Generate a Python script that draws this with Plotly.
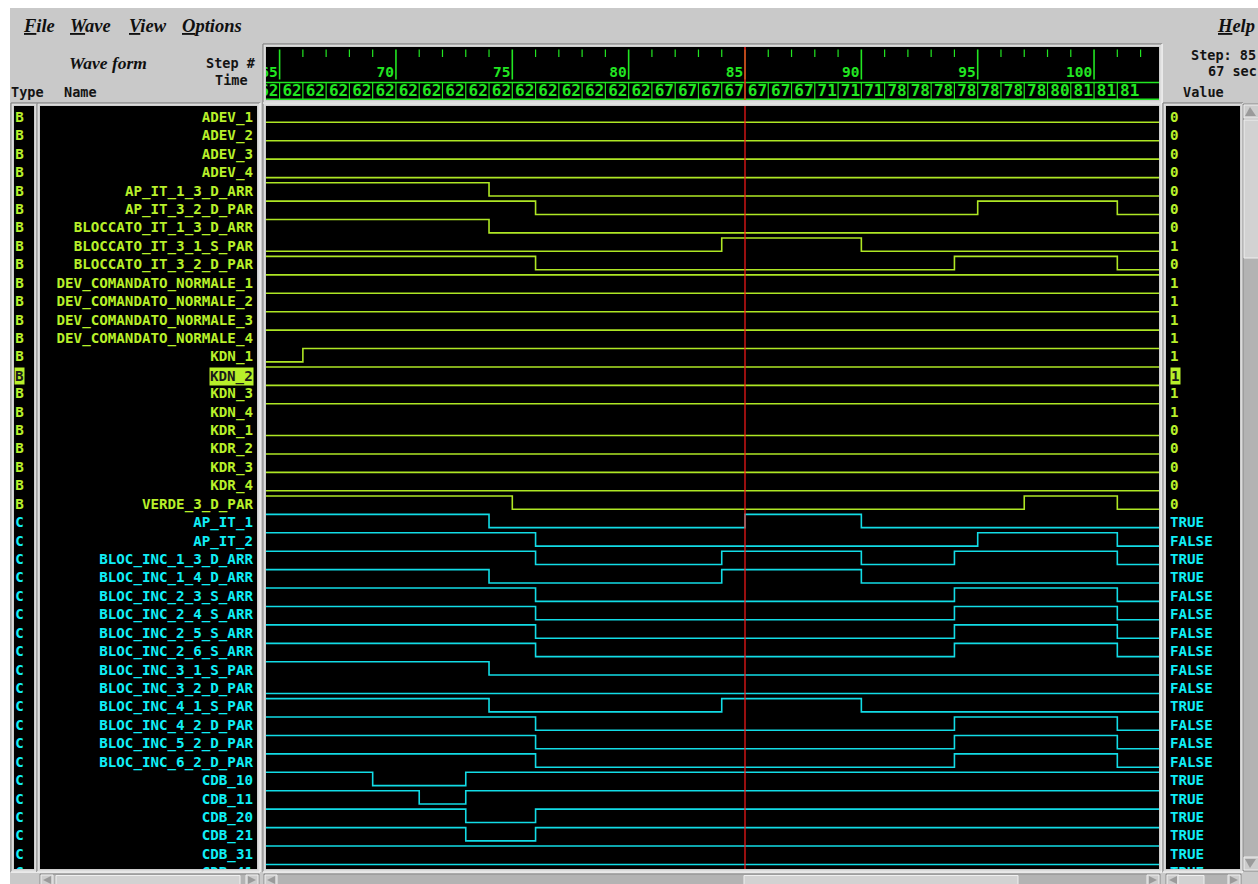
import plotly.graph_objects as go

W, H = 1258, 884

# ---------------- data ----------------
signal_names = [
    "ADEV_1", "ADEV_2", "ADEV_3", "ADEV_4",
    "AP_IT_1_3_D_ARR", "AP_IT_3_2_D_PAR",
    "BLOCCATO_IT_1_3_D_ARR", "BLOCCATO_IT_3_1_S_PAR", "BLOCCATO_IT_3_2_D_PAR",
    "DEV_COMANDATO_NORMALE_1", "DEV_COMANDATO_NORMALE_2",
    "DEV_COMANDATO_NORMALE_3", "DEV_COMANDATO_NORMALE_4",
    "KDN_1", "KDN_2", "KDN_3", "KDN_4",
    "KDR_1", "KDR_2", "KDR_3", "KDR_4",
    "VERDE_3_D_PAR",
    "AP_IT_1", "AP_IT_2",
    "BLOC_INC_1_3_D_ARR", "BLOC_INC_1_4_D_ARR",
    "BLOC_INC_2_3_S_ARR", "BLOC_INC_2_4_S_ARR", "BLOC_INC_2_5_S_ARR", "BLOC_INC_2_6_S_ARR",
    "BLOC_INC_3_1_S_PAR", "BLOC_INC_3_2_D_PAR", "BLOC_INC_4_1_S_PAR",
    "BLOC_INC_4_2_D_PAR", "BLOC_INC_5_2_D_PAR", "BLOC_INC_6_2_D_PAR",
    "CDB_10", "CDB_11", "CDB_20", "CDB_21", "CDB_31", "CDB_41",
]
signal_types = [
    "B", "B", "B", "B", "B", "B", "B", "B", "B", "B", "B", "B", "B",
    "B", "B", "B", "B", "B", "B", "B", "B", "B",
    "C", "C", "C", "C", "C", "C", "C", "C", "C", "C", "C", "C", "C", "C",
    "C", "C", "C", "C", "C", "C",
]
# level at the left edge of the view (1 = high, 0 = low)
signal_start = [
    0, 0, 0, 0, 1, 1, 1, 0, 1, 1, 1, 1, 1,
    0, 1, 1, 1, 0, 0, 0, 0, 1,
    1, 1, 1, 1, 1, 1, 1, 1, 1, 0, 1, 1, 1, 1,
    1, 1, 1, 1, 1, 1,
]
# steps at which the signal toggles
signal_edges = [
    [], [], [], [],
    [74], [76, 95, 101],
    [74], [84, 90], [76, 94, 101],
    [], [], [], [],
    [66], [], [], [],
    [], [], [], [],
    [75, 97, 101],
    [74, 85, 90], [76, 95, 101],
    [76, 84, 90, 94, 101], [74, 84, 90],
    [76, 94, 101], [76, 94, 101], [76, 94, 101], [76, 94, 101],
    [74], [], [74, 84, 90],
    [76, 94, 101], [76, 94, 101], [76, 94, 101],
    [69, 73], [71, 73], [73, 76], [73, 76], [], [],
]
signal_values = [
    "0", "0", "0", "0", "0", "0", "0", "1", "0", "1", "1", "1", "1",
    "1", "1", "1", "1", "0", "0", "0", "0", "0",
    "TRUE", "FALSE", "TRUE", "TRUE", "FALSE", "FALSE", "FALSE", "FALSE",
    "FALSE", "FALSE", "TRUE", "FALSE", "FALSE", "FALSE",
    "TRUE", "TRUE", "TRUE", "TRUE", "TRUE", "TRUE",
]
selected_signal = "KDN_2"

time_steps = [64, 65, 66, 67, 68, 69, 70, 71, 72, 73, 74, 75, 76, 77, 78, 79, 80,
              81, 82, 83, 84, 85, 86, 87, 88, 89, 90, 91, 92, 93, 94, 95, 96, 97,
              98, 99, 100, 101]
time_labels = ["62", "62", "62", "62", "62", "62", "62", "62", "62", "62", "62", "62",
               "62", "62", "62", "62", "62",
               "67", "67", "67", "67", "67", "67", "67",
               "71", "71", "71",
               "78", "78", "78", "78", "78", "78", "78",
               "80", "81", "81", "81"]
major_steps = [65, 70, 75, 80, 85, 90, 95, 100]
minor_steps = [64, 66, 67, 68, 69, 71, 72, 73, 74, 76, 77, 78, 79, 81, 82, 83, 84,
               86, 87, 88, 89, 91, 92, 93, 94, 96, 97, 98, 99, 101, 102]
cursor_step = 85
cursor_time = "67"

# ---------------- style ----------------
GRAY = "#c9c9c9"
COL = {"B": "#aee624", "C": "#12dce6"}
TXT = {"B": "#b8f02a", "C": "#10eef6"}
GREEN = "#22e622"
RED = "#ff1a1a"
MONO = "DejaVu Sans Mono"
SERIF = "Liberation Serif"

ROW_PX = 18.425
ROW0_PX = 117.0
HI = 8.0 / ROW_PX
LO = -5.3 / ROW_PX

WAVE_X0, WAVE_X1 = 266, 1159
PANEL_Y0, PANEL_Y1 = 106, 869
HDR_Y0, HDR_Y1 = 47, 100
STEP_PX = 23.27
x_lo = cursor_step - (745 - WAVE_X0) / STEP_PX
x_hi = cursor_step + (WAVE_X1 - 745) / STEP_PX
y_top = (ROW0_PX - PANEL_Y0) / ROW_PX
y_bot = -(PANEL_Y1 - ROW0_PX) / ROW_PX


def dom_x(a, b):
    return [a / W, b / W]


def dom_y(a, b):
    return [1 - b / H, 1 - a / H]


fig = go.Figure()

# waveforms
for i, name in enumerate(signal_names):
    lvl = signal_start[i]
    xs = [x_lo - 1]
    ys = [-i + (HI if lvl else LO)]
    for e in signal_edges[i]:
        lvl = 1 - lvl
        xs.append(e)
        ys.append(-i + (HI if lvl else LO))
    xs.append(x_hi + 1)
    ys.append(ys[-1])
    fig.add_trace(go.Scatter(
        x=xs, y=ys, mode="lines", line=dict(shape="hv", color=COL[signal_types[i]], width=1.6),
        xaxis="x", yaxis="y", hoverinfo="skip", showlegend=False))

label_font = dict(family=MONO, size=14.2, weight="bold")
row_y = [-i - 0.07 for i in range(len(signal_names))]

# names
fig.add_trace(go.Scatter(
    x=[253] * len(signal_names), y=row_y, text=signal_names, mode="text",
    textposition="middle left",
    textfont=dict(**label_font, color=[TXT[t] for t in signal_types]),
    xaxis="x2", yaxis="y2", hoverinfo="skip", showlegend=False, cliponaxis=True))
# types
fig.add_trace(go.Scatter(
    x=[19.5] * len(signal_names), y=row_y, text=signal_types, mode="text",
    textposition="middle center",
    textfont=dict(**label_font, color=[TXT[t] for t in signal_types]),
    xaxis="x3", yaxis="y3", hoverinfo="skip", showlegend=False, cliponaxis=True))
# values
fig.add_trace(go.Scatter(
    x=[1170] * len(signal_names), y=row_y, text=signal_values, mode="text",
    textposition="middle right",
    textfont=dict(**label_font, color=[TXT[t] for t in signal_types]),
    xaxis="x4", yaxis="y4", hoverinfo="skip", showlegend=False, cliponaxis=True))

# ---------------- time header ----------------
def seg_trace(xs, y0, y1, color, width=1.2):
    X, Y = [], []
    for x in xs:
        X += [x, x, None]
        Y += [y0, y1, None]
    return go.Scatter(x=X, y=Y, mode="lines", line=dict(color=color, width=width),
                      xaxis="x5", yaxis="y5", hoverinfo="skip", showlegend=False)


fig.add_trace(seg_trace(major_steps, 49.5, 79.5, GREEN, 1.6))
fig.add_trace(seg_trace(minor_steps, 49.5, 57, GREEN, 1.2))
fig.add_trace(seg_trace(time_steps, 83, 99, GREEN, 1.2))
fig.add_trace(go.Scatter(
    x=[x_lo - 1, x_hi + 1, None, x_lo - 1, x_hi + 1], y=[82.5, 82.5, None, 99.3, 99.3],
    mode="lines", line=dict(color=GREEN, width=1.6),
    xaxis="x5", yaxis="y5", hoverinfo="skip", showlegend=False))
fig.add_trace(go.Scatter(
    x=[s - 0.08 for s in major_steps], y=[73] * len(major_steps),
    text=[str(s) for s in major_steps], mode="text", textposition="middle left",
    textfont=dict(family=MONO, size=14.5, weight="bold", color=GREEN),
    xaxis="x5", yaxis="y5", hoverinfo="skip", showlegend=False, cliponaxis=True))
fig.add_trace(go.Scatter(
    x=[s + 0.12 for s in time_steps], y=[91.5] * len(time_steps),
    text=time_labels, mode="text", textposition="middle right",
    textfont=dict(family=MONO, size=16, weight="bold", color=GREEN),
    xaxis="x5", yaxis="y5", hoverinfo="skip", showlegend=False, cliponaxis=True))

# ---------------- axes ----------------
noax = dict(visible=False, showgrid=False, zeroline=False, fixedrange=True)
fig.update_layout(
    xaxis=dict(**noax, domain=dom_x(WAVE_X0, WAVE_X1), range=[x_lo, x_hi], anchor="y"),
    yaxis=dict(**noax, domain=dom_y(PANEL_Y0, PANEL_Y1), range=[y_bot, y_top], anchor="x"),
    xaxis2=dict(**noax, domain=dom_x(40, 257), range=[40, 257], anchor="y2"),
    yaxis2=dict(**noax, domain=dom_y(PANEL_Y0, PANEL_Y1), range=[y_bot, y_top], anchor="x2"),
    xaxis3=dict(**noax, domain=dom_x(14, 34), range=[14, 34], anchor="y3"),
    yaxis3=dict(**noax, domain=dom_y(PANEL_Y0, PANEL_Y1), range=[y_bot, y_top], anchor="x3"),
    xaxis4=dict(**noax, domain=dom_x(1166, 1240), range=[1166, 1240], anchor="y4"),
    yaxis4=dict(**noax, domain=dom_y(PANEL_Y0, PANEL_Y1), range=[y_bot, y_top], anchor="x4"),
    xaxis5=dict(**noax, domain=dom_x(WAVE_X0, WAVE_X1), range=[x_lo, x_hi], anchor="y5"),
    yaxis5=dict(**noax, domain=dom_y(HDR_Y0, HDR_Y1), range=[HDR_Y1, HDR_Y0], anchor="x5"),
)

# ---------------- shapes ----------------
shapes = []


def prect(x0, y0, x1, y1, fill=None, line=None, lw=0, layer="above"):
    d = dict(type="rect", xref="paper", yref="paper", x0=x0 / W, x1=x1 / W,
             y0=1 - y1 / H, y1=1 - y0 / H, layer=layer,
             line=dict(width=lw, color=line or "rgba(0,0,0,0)"))
    if fill:
        d["fillcolor"] = fill
    shapes.append(d)


def pline(x0, y0, x1, y1, color, lw=1):
    shapes.append(dict(type="line", xref="paper", yref="paper", x0=x0 / W, x1=x1 / W,
                       y0=1 - y0 / H, y1=1 - y1 / H, line=dict(color=color, width=lw)))


def ppath(pts, fill):
    p = "M " + " L ".join(f"{x / W},{1 - y / H}" for x, y in pts) + " Z"
    shapes.append(dict(type="path", xref="paper", yref="paper", path=p,
                       fillcolor=fill, line=dict(width=0)))


# white window margin
prect(0, 0, W, 8, fill="#ffffff", layer="below")
prect(0, 0, 10, H, fill="#ffffff", layer="below")


def sunken(x0, y0, x1, y1):
    pline(x0 - 3, y0 - 3, x1 + 3, y0 - 3, "#8c8c8c", 1.5)
    pline(x0 - 3, y0 - 3, x0 - 3, y1 + 3, "#8c8c8c", 1.5)
    pline(x0 - 3, y1 + 3, x1 + 3, y1 + 3, "#f4f4f4", 1.5)
    pline(x1 + 3, y0 - 3, x1 + 3, y1 + 3, "#f4f4f4", 1.5)
    prect(x0 - 1.5, y0 - 1.5, x1 + 1.5, y1 + 1.5, line="#dcdcdc", lw=1.5)


sunken(14, PANEL_Y0, 34, PANEL_Y1)
sunken(40, PANEL_Y0, 257, PANEL_Y1)
sunken(WAVE_X0, PANEL_Y0, WAVE_X1, PANEL_Y1)
sunken(1166, PANEL_Y0, 1240, PANEL_Y1)
sunken(WAVE_X0, HDR_Y0, WAVE_X1, HDR_Y1)

# cursor lines
shapes.append(dict(type="line", xref="x", yref="y domain", x0=cursor_step, x1=cursor_step,
                   y0=0, y1=1, line=dict(color=RED, width=1.2)))
shapes.append(dict(type="line", xref="x5", yref="y5 domain", x0=cursor_step, x1=cursor_step,
                   y0=0, y1=1, line=dict(color=RED, width=1.4)))


def hscroll(x0, x1, t0, t1, y0=874, y1=886):
    prect(x0, y0, x1, y1, fill="#b3b3b3", line="#8a8a8a", lw=1)
    prect(x0 + 1, y0 + 1, x0 + 13, y1, fill="#cdcdcd", line="#efefef", lw=1)
    ppath([(x0 + 3, y0 + 6), (x0 + 11, y0 + 2), (x0 + 11, y0 + 10)], "#9a9a9a")
    prect(x1 - 13, y0 + 1, x1 - 1, y1, fill="#cdcdcd", line="#efefef", lw=1)
    ppath([(x1 - 3, y0 + 6), (x1 - 11, y0 + 2), (x1 - 11, y0 + 10)], "#9a9a9a")
    prect(t0, y0 + 1.5, t1, y1, fill="#d2d2d2", line="#f0f0f0", lw=1)


hscroll(40, 259, 56, 240)
hscroll(WAVE_X0 - 2, WAVE_X1 + 1, 744, 1018)
hscroll(1166, 1241, 1178, 1204)

# vertical scrollbar (right)
prect(1243, PANEL_Y0 - 2, 1262, PANEL_Y1 + 2, fill="#b3b3b3", line="#8a8a8a", lw=1)
prect(1244, PANEL_Y0 - 1, 1262, PANEL_Y0 + 12, fill="#cdcdcd", line="#efefef", lw=1)
ppath([(1250, PANEL_Y0 + 1), (1245, PANEL_Y0 + 10), (1256, PANEL_Y0 + 10)], "#9a9a9a")
prect(1244, PANEL_Y0 + 14, 1262, 258, fill="#d2d2d2", line="#f0f0f0", lw=1)
prect(1244, PANEL_Y1 - 12, 1262, PANEL_Y1 + 1, fill="#cdcdcd", line="#efefef", lw=1)
ppath([(1250, PANEL_Y1 - 1), (1245, PANEL_Y1 - 10), (1256, PANEL_Y1 - 10)], "#9a9a9a")

# ---------------- annotations ----------------
ann = []


def ptext(x, y, text, size=14, family=MONO, weight="bold", color="#141414", xanchor="left",
          style="normal"):
    ann.append(dict(xref="paper", yref="paper", x=x / W, y=1 - y / H, text=text,
                    showarrow=False, xanchor=xanchor, yanchor="middle",
                    font=dict(family=family, size=size, weight=weight, color=color, style=style)))


# menu bar
for label, x in [("<u>F</u>ile", 21), ("<u>W</u>ave", 68), ("<u>V</u>iew", 127),
                 ("<u>O</u>ptions", 180), ("<u>H</u>elp", 1215)]:
    ptext(x, 26, label, size=18.5, family=SERIF, color="#101010", style="italic")

ptext(67, 63.5, "Wave form", size=17.5, family=SERIF, color="#101010", style="italic")
ptext(258, 63.5, "Step #", size=13.5, xanchor="right")
ptext(250, 79.5, "Time", size=13.5, xanchor="right")
ptext(9, 92, "Type", size=13.5)
ptext(62, 92, "Name", size=13.5)
ptext(1189, 55, f"Step: {cursor_step}", size=13.5)
ptext(1206, 71, f"{cursor_time} sec", size=13.5)
ptext(1181, 92, "Value", size=13.5)

# highlighted (selected) signal
j = signal_names.index(selected_signal)
hl = TXT[signal_types[j]]
for txt, xr, yr, xv, anchor in [(signal_names[j], "x2", "y2", 253.5, "right"),
                                (signal_types[j], "x3", "y3", 19.5, "center"),
                                (signal_values[j], "x4", "y4", 1170, "left")]:
    ann.append(dict(xref=xr, yref=yr, x=xv, y=row_y[j], text=txt, showarrow=False,
                    xanchor=anchor, yanchor="middle", bgcolor=hl, borderpad=0,
                    font=dict(family=MONO, size=14.2, weight="bold", color="#1a1a1a")))

fig.update_layout(
    width=W, height=H, margin=dict(l=0, r=0, t=0, b=0),
    paper_bgcolor=GRAY, plot_bgcolor="#000000",
    shapes=shapes, annotations=ann, showlegend=False,
)

fig.write_html("out.html", config={"displayModeBar": False, "staticPlot": True},
               post_script="document.body.style.margin='0';document.body.style.overflow='hidden';")
